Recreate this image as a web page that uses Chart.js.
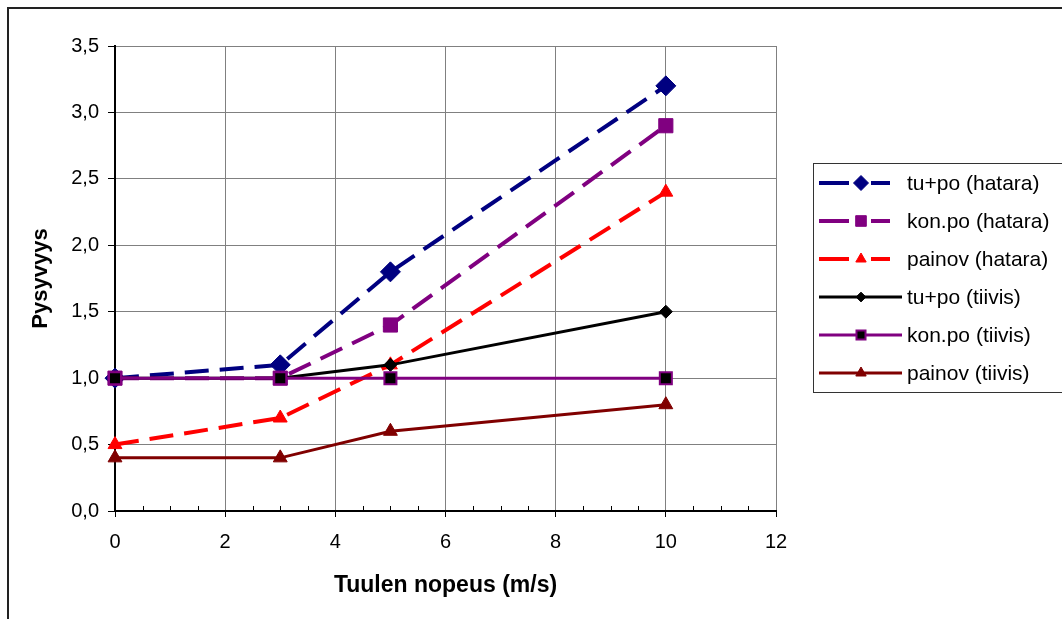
<!DOCTYPE html>
<html>
<head>
<meta charset="utf-8">
<title>Pysyvyys</title>
<script src="https://cdn.jsdelivr.net/npm/chart.js@4/dist/chart.umd.min.js"></script>
<style>
  body { margin: 0; background: #fff; }
  #grafico { display: block; }
</style>
</head>
<body>
<canvas id="grafico" width="1062" height="619"></canvas>
<script>
// Dados
var nopeus = [0, 3, 5, 10];
var nimet = ['tu+po (hatara)', 'kon.po (hatara)', 'painov (hatara)', 'tu+po (tiivis)', 'kon.po (tiivis)', 'painov (tiivis)'];
var tupoHatara = [1.0, 1.1, 1.8, 3.2];
var konpoHatara = [1.0, 1.0, 1.4, 2.9];
var painovHatara = [0.5, 0.7, 1.1, 2.4];
var tupoTiivis = [1.0, 1.0, 1.1, 1.5];
var konpoTiivis = [1.0, 1.0, 1.0, 1.0];
var painovTiivis = [0.4, 0.4, 0.6, 0.8];
var xMin = 0, xMax = 12, xStep = 2;
var yMin = 0, yMax = 3.5, yStep = 0.5;

var fonte = 'Liberation Sans, Arial, sans-serif';

function pontos(valores) {
    var lista = [];
    for (var i = 0; i < nopeus.length; i++) {
        lista.push({ x: nopeus[i], y: valores[i] });
    }
    return lista;
}

// estilo de cada série (linha, marcador)
var estilos = [
    { cor: '#000080', fundo: '#000080', borda: '#000080', forma: 'rectRot', raio: 10, bw: 1, tracejado: true },
    { cor: '#800080', fundo: '#800080', borda: '#800080', forma: 'rect', raio: 10, bw: 1, tracejado: true },
    { cor: '#FF0000', fundo: '#FF0000', borda: '#FF0000', forma: 'triangle', raio: 8, bw: 1, tracejado: true },
    { cor: '#000000', fundo: '#000000', borda: '#000000', forma: 'rectRot', raio: 6.5, bw: 1, tracejado: false },
    { cor: '#800080', fundo: '#000000', borda: '#800080', forma: 'rect', raio: 8.5, bw: 2, tracejado: false },
    { cor: '#800000', fundo: '#800000', borda: '#800000', forma: 'triangle', raio: 8, bw: 1, tracejado: false }
];
var valoresSeries = [tupoHatara, konpoHatara, painovHatara, tupoTiivis, konpoTiivis, painovTiivis];

var datasets = [];
for (var i = 0; i < valoresSeries.length; i++) {
    var e = estilos[i];
    datasets.push({
        label: nimet[i],
        data: pontos(valoresSeries[i]),
        borderColor: e.cor,
        backgroundColor: e.fundo,
        borderWidth: e.tracejado ? 4 : 3,
        borderDash: e.tracejado ? [24, 11] : [],
        pointStyle: e.forma,
        pointRadius: e.raio,
        pointHoverRadius: e.raio,
        pointBackgroundColor: e.fundo,
        pointBorderColor: e.borda,
        pointBorderWidth: e.bw,
        tension: 0,
        clip: false,
        order: valoresSeries.length - i
    });
}

// marcador desenhado à mão na legenda
function marcador(ctx, forma, x, y, r) {
    ctx.beginPath();
    if (forma == 'rectRot') {
        ctx.moveTo(x, y - r);
        ctx.lineTo(x + r, y);
        ctx.lineTo(x, y + r);
        ctx.lineTo(x - r, y);
    } else if (forma == 'rect') {
        var s = r * Math.SQRT1_2;
        ctx.rect(x - s, y - s, 2 * s, 2 * s);
    } else {
        var h = r * 0.866;
        ctx.moveTo(x, y - r);
        ctx.lineTo(x + h, y + r / 2);
        ctx.lineTo(x - h, y + r / 2);
    }
    ctx.closePath();
    ctx.fill();
    ctx.stroke();
}

var extras = {
    id: 'extras',
    beforeDraw(chart) {
        var ctx = chart.ctx;
        ctx.save();
        ctx.fillStyle = '#fff';
        ctx.fillRect(0, 0, chart.width, chart.height);
        ctx.strokeStyle = '#222';
        ctx.lineWidth = 2;
        ctx.strokeRect(8, 8, chart.width + 40, chart.height + 40);
        ctx.restore();
    },
    afterDraw(chart) {
        var ctx = chart.ctx;
        var escalaX = chart.scales.x;
        var base = chart.chartArea.bottom;
        ctx.save();
        // tiques menores do eixo X
        ctx.strokeStyle = '#000';
        ctx.lineWidth = 1;
        ctx.beginPath();
        for (var v = xMin + 0.5; v < xMax; v += 0.5) {
            if (v % xStep == 0) continue;
            var px = Math.round(escalaX.getPixelForValue(v)) + 0.5;
            ctx.moveTo(px, base);
            ctx.lineTo(px, base - 5);
        }
        ctx.stroke();

        // legenda
        ctx.strokeStyle = '#333';
        ctx.lineWidth = 1;
        ctx.strokeRect(813.5, 163.5, 400, 229);
        ctx.font = '21px ' + fonte;
        ctx.textBaseline = 'middle';
        ctx.textAlign = 'left';
        for (var i = 0; i < nimet.length; i++) {
            var e = estilos[i];
            var y = 183 + i * 38;
            ctx.strokeStyle = e.cor;
            ctx.setLineDash([]);
            ctx.beginPath();
            if (e.tracejado) {
                ctx.lineWidth = 4;
                ctx.moveTo(819, y); ctx.lineTo(849, y);
                ctx.moveTo(871, y); ctx.lineTo(890, y);
            } else {
                ctx.lineWidth = 3;
                ctx.moveTo(819, y); ctx.lineTo(902, y);
            }
            ctx.stroke();
            ctx.fillStyle = e.fundo;
            ctx.strokeStyle = e.borda;
            ctx.lineWidth = e.bw;
            marcador(ctx, e.forma, 861, y, e.raio * 0.75);
            ctx.fillStyle = '#000';
            ctx.fillText(nimet[i], 907, y + 1);
        }
        ctx.restore();
    }
};

const ctxGrafico = document.getElementById('grafico').getContext('2d');
const grafico = new Chart(ctxGrafico, {
    type: 'line',
    data: { datasets: datasets },
    options: {
        responsive: false,
        animation: false,
        devicePixelRatio: 1,
        layout: { padding: { left: 0, top: 46, right: 286, bottom: 0 } },
        plugins: {
            legend: { display: false },
            tooltip: { enabled: false }
        },
        scales: {
            x: {
                type: 'linear',
                min: xMin,
                max: xMax,
                afterFit(scale) { scale.height = 108; },
                ticks: {
                    stepSize: xStep,
                    color: '#000',
                    padding: 13,
                    maxRotation: 0,
                    font: { family: fonte, size: 20 }
                },
                grid: { color: '#808080', lineWidth: 1, tickColor: '#000', tickLength: 6 },
                border: { color: '#000', width: 2 },
                title: {
                    display: true,
                    text: 'Tuulen nopeus (m/s)',
                    color: '#000',
                    padding: { top: 0, bottom: 20 },
                    font: { family: fonte, size: 23, weight: 'bold' }
                }
            },
            y: {
                min: yMin,
                max: yMax,
                afterFit(scale) { scale.width = 115; },
                ticks: {
                    stepSize: yStep,
                    color: '#000',
                    padding: 9,
                    font: { family: fonte, size: 20 },
                    callback: function (valor) { return valor.toFixed(1).replace('.', ','); }
                },
                grid: { color: '#808080', lineWidth: 1, tickColor: '#000', tickLength: 7 },
                border: { color: '#000', width: 2 },
                title: {
                    display: true,
                    text: 'Pysyvyys',
                    color: '#000',
                    padding: { top: 28, bottom: 0 },
                    font: { family: fonte, size: 22, weight: 'bold' }
                }
            }
        }
    },
    plugins: [extras]
});
</script>
</body>
</html>
